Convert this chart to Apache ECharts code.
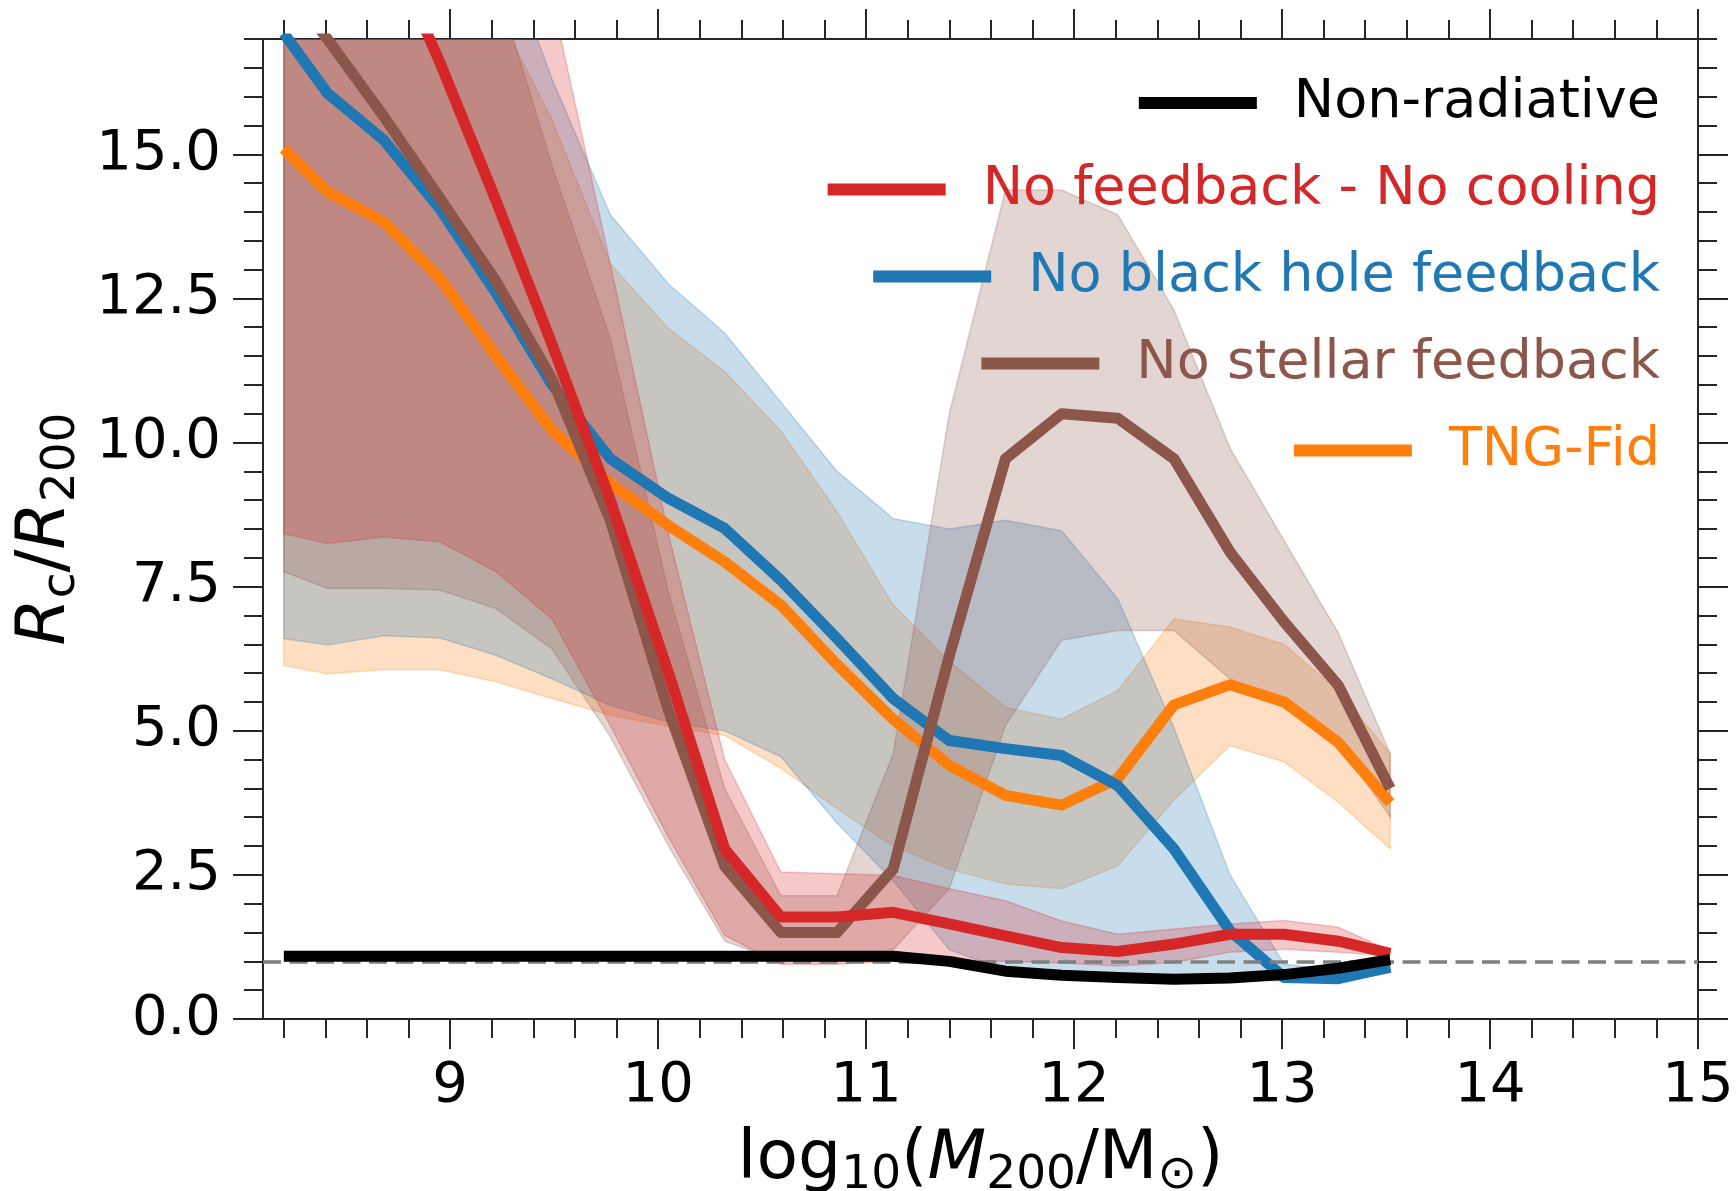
<!DOCTYPE html>
<html><head><meta charset="utf-8">
<script src="https://cdn.jsdelivr.net/npm/echarts@6/dist/echarts.min.js"></script>
<style>html,body{margin:0;padding:0;background:#fff}#c{width:1736px;height:1191px}</style>
</head><body><div id="c"></div>
<script>
// ---- data ----
const logM = [8.20, 8.41, 8.68, 8.95, 9.22, 9.49, 9.77, 10.05, 10.32, 10.59, 10.86, 11.13, 11.40, 11.67, 11.94, 12.21, 12.48, 12.75, 13.01, 13.27, 13.52];

const nonRadiative = [1.09, 1.09, 1.09, 1.09, 1.09, 1.09, 1.09, 1.09, 1.09, 1.09, 1.09, 1.09, 1.0, 0.83, 0.76, 0.72, 0.69, 0.71, 0.77, 0.88, 1.03];

const noFbNoCool   = [23.0, 21.0, 18.8, 16.6, 14.2, 11.7, 9.0, 6.0, 2.95, 1.77, 1.77, 1.85, 1.65, 1.44, 1.24, 1.17, 1.30, 1.47, 1.47, 1.35, 1.14];
const noFbNoCoolLo = [8.42, 8.25, 8.36, 8.28, 7.76, 6.94, 5.09, 3.15, 1.45, 0.95, 0.95, 1.0, 1.02, 1.0, 0.97, 0.92, 0.98, 1.16, 1.21, 1.16, 1.10];
const noFbNoCoolHi = [25, 25, 25, 25, 25, 17.7, 13.1, 8.4, 4.5, 2.55, 2.52, 2.49, 2.26, 2.05, 1.70, 1.47, 1.56, 1.65, 1.71, 1.59, 1.19];

const noBH   = [17.1, 16.06, 15.25, 14.06, 12.6, 11.0, 9.72, 9.03, 8.51, 7.61, 6.6, 5.56, 4.83, 4.69, 4.57, 4.05, 2.95, 1.53, 0.72, 0.70, 0.90];
const noBHLo = [6.6, 6.49, 6.65, 6.61, 6.31, 5.9, 5.44, 5.15, 5.0, 4.55, 3.4, 2.4, 1.2, 0.85, 0.7, 0.7, 0.7, 0.7, 0.66, 0.65, 0.8];
const noBHHi = [25, 25, 25, 25, 19, 16.3, 13.95, 12.75, 11.9, 10.7, 9.5, 8.68, 8.5, 8.65, 8.47, 7.29, 5.05, 2.5, 0.95, 0.85, 1.0];

const noStellar   = [18.0, 17.0, 15.66, 14.24, 12.8, 11.1, 8.65, 5.35, 2.65, 1.5, 1.5, 2.6, 6.3, 9.72, 10.5, 10.42, 9.72, 8.1, 6.89, 5.79, 4.0];
const noStellarLo = [7.76, 7.47, 7.47, 7.44, 7.12, 6.42, 4.9, 3.0, 1.35, 1.0, 1.0, 1.2, 2.26, 5.09, 6.57, 6.74, 6.74, 5.9, 5.5, 4.8, 3.5];
const noStellarHi = [25, 25, 25, 25, 18.0, 14.8, 11.8, 7.4, 4.0, 2.14, 2.14, 4.6, 10.5, 14.38, 14.38, 13.95, 12.3, 9.9, 8.3, 6.7, 4.6];

const tngFid   = [15.1, 14.35, 13.83, 12.85, 11.5, 10.21, 9.29, 8.56, 7.93, 7.18, 6.15, 5.2, 4.4, 3.88, 3.71, 4.17, 5.45, 5.8, 5.5, 4.8, 3.75];
const tngFidLo = [6.13, 5.99, 6.06, 6.06, 5.85, 5.56, 5.27, 5.08, 4.92, 4.35, 3.65, 3.0, 2.6, 2.34, 2.26, 2.66, 3.8, 4.74, 4.46, 3.76, 2.95];
const tngFidHi = [20, 19.5, 19, 18.5, 17.5, 15.6, 13.1, 11.98, 11.23, 10.2, 8.8, 7.18, 6.2, 5.41, 5.2, 5.7, 6.94, 6.8, 6.5, 5.7, 4.6];

const refLevel = 1.0;

const xMajorTicks = [9, 10, 11, 12, 13, 14, 15];
const yMajorTicks = [0, 2.5, 5, 7.5, 10, 12.5, 15];

const seriesNames = ['Non-radiative', 'No feedback - No cooling', 'No black hole feedback', 'No stellar feedback', 'TNG-Fid'];
const seriesColors = ['#000000', '#d62728', '#1f77b4', '#8c564b', '#ff7f0e'];

// ---- minor tick positions ----
const xMinorTicks = [];
for (let k = 41; k <= 74; k++) { const v = Math.round(k * 2) / 10; if (Math.abs(v - Math.round(v)) > 1e-6) xMinorTicks.push(v); }
const yMinorTicks = [];
for (let k = 1; k <= 34; k++) { const v = k / 2; if (Math.abs(v / 2.5 - Math.round(v / 2.5)) > 1e-6) yMinorTicks.push(v); }

const FONT = 'DejaVu Sans';
const AX = '#262626';

function pairs(ys) { return logM.map((x, i) => [x, ys[i]]); }

function band(name, lo, hi, rgb, z) {
  const col = 'rgba(' + rgb + ',0.25)';
  return {
    type: 'custom', name: name + ' range', xAxisIndex: 0, yAxisIndex: 0,
    clip: true, silent: true, z: z,
    data: logM.map((x, i) => [x, lo[i], hi[i]]),
    encode: { x: 0, y: [1, 2] },
    renderItem: function (params, api) {
      if (params.dataIndex !== 0) return { type: 'group', children: [] };
      const pts = [];
      for (let i = 0; i < logM.length; i++) pts.push(api.coord([logM[i], hi[i]]));
      for (let i = logM.length - 1; i >= 0; i--) pts.push(api.coord([logM[i], lo[i]]));
      return { type: 'polygon', shape: { points: pts }, style: { fill: col, stroke: col, lineWidth: 1.5 } };
    }
  };
}

function line(name, ys, color, z, extra) {
  return Object.assign({
    type: 'line', name: name, xAxisIndex: 0, yAxisIndex: 0, data: pairs(ys),
    showSymbol: false, symbol: 'none', clip: true, z: z, color: color,
    lineStyle: { width: 11, color: color, cap: 'butt', join: 'round' },
    emphasis: { disabled: true }
  }, extra || {});
}

function xAxisDef(pos, ticks, len, showLabel, showLine) {
  return {
    type: 'value', position: pos, min: 8.1, max: 15, gridIndex: 0,
    axisLine: { show: showLine, onZero: false, lineStyle: { color: AX, width: 2 } },
    axisTick: { show: true, inside: false, length: len, customValues: ticks, lineStyle: { color: AX, width: 2 } },
    axisLabel: showLabel ? { show: true, customValues: xMajorTicks, margin: 39, fontSize: 56, fontFamily: FONT, color: '#000', formatter: v => String(v) } : { show: false },
    splitLine: { show: false }
  };
}
function yAxisDef(pos, ticks, len, showLabel, showLine) {
  return {
    type: 'value', position: pos, min: 0, max: 17, gridIndex: 0,
    axisLine: { show: showLine, onZero: false, lineStyle: { color: AX, width: 2 } },
    axisTick: { show: true, inside: false, length: len, customValues: ticks, lineStyle: { color: AX, width: 2 } },
    axisLabel: showLabel ? { show: true, customValues: yMajorTicks, margin: 42, fontSize: 56, fontFamily: FONT, color: '#000', padding: [7, 0, 0, 0], formatter: v => v.toFixed(1) } : { show: false },
    splitLine: { show: false }
  };
}

const mainSt = { fontSize: 68, fontFamily: FONT, color: '#000', verticalAlign: 'bottom', lineHeight: 68, padding: [0, 0, 5, 0] };
const italSt = Object.assign({}, mainSt, { fontStyle: 'italic' });
const subSt = { fontSize: 47, fontFamily: FONT, color: '#000', verticalAlign: 'bottom', lineHeight: 47 };
const nameRich = { m: mainSt, i: italSt, s: subSt };

const xA = xAxisDef('bottom', xMajorTicks, 30, true, true);
xA.name = '{m|log}{s|10}{m|(}{i|M}{s|200}{m|/M}{s|⊙}{m|)}';
xA.nameLocation = 'middle';
xA.nameGap = 112;
xA.nameTextStyle = { rich: nameRich };

const yA = yAxisDef('left', yMajorTicks, 30, true, true);
yA.name = '{i|R}{s|c}{m|/}{i|R}{s|200}';
yA.nameLocation = 'middle';
yA.nameRotate = 90;
yA.nameGap = 165;
yA.nameTextStyle = { rich: nameRich };

const legendTops = [72, 158.5, 245.5, 332.5, 419.5];
const legends = seriesNames.map((n, i) => ({
  right: 76, top: legendTops[i], padding: 0, orient: 'horizontal',
  selectedMode: false, icon: 'rect', itemWidth: 118, itemHeight: 12,
  data: [{ name: n, icon: 'rect', itemStyle: { color: seriesColors[i] } }],
  textStyle: { fontSize: 54, fontFamily: FONT, color: seriesColors[i], lineHeight: 60, padding: [2, 0, 0, 32] }
}));

const option = {
  animation: false,
  backgroundColor: '#ffffff',
  textStyle: { fontFamily: FONT },
  grid: { left: 263, right: 38, top: 39, bottom: 172, containLabel: false, outerBoundsMode: 'none' },
  legend: legends,
  xAxis: [
    xA,
    xAxisDef('bottom', xMinorTicks, 19, false, false),
    xAxisDef('top', xMajorTicks, 30, false, true),
    xAxisDef('top', xMinorTicks, 19, false, false)
  ],
  yAxis: [
    yA,
    yAxisDef('left', yMinorTicks, 19, false, false),
    yAxisDef('right', yMajorTicks, 30, false, true),
    yAxisDef('right', yMinorTicks, 19, false, false)
  ],
  series: [
    band(seriesNames[4], tngFidLo, tngFidHi, '255,127,14', 1),
    band(seriesNames[2], noBHLo, noBHHi, '31,119,180', 1),
    band(seriesNames[3], noStellarLo, noStellarHi, '140,86,75', 1),
    band(seriesNames[1], noFbNoCoolLo, noFbNoCoolHi, '214,39,40', 1),
    line(seriesNames[4], tngFid, seriesColors[4], 3, {
      markLine: { silent: true, symbol: 'none', label: { show: false },
        lineStyle: { type: [18, 8.5], color: '#808080', width: 3.5 },
        data: [{ yAxis: refLevel }] }
    }),
    line(seriesNames[2], noBH, seriesColors[2], 4),
    line(seriesNames[3], noStellar, seriesColors[3], 5),
    line(seriesNames[1], noFbNoCool, seriesColors[1], 6),
    line(seriesNames[0], nonRadiative, seriesColors[0], 7)
  ]
};

const chart = echarts.init(document.getElementById('c'), null, { renderer: 'canvas' });
chart.setOption(option);
</script></body></html>
